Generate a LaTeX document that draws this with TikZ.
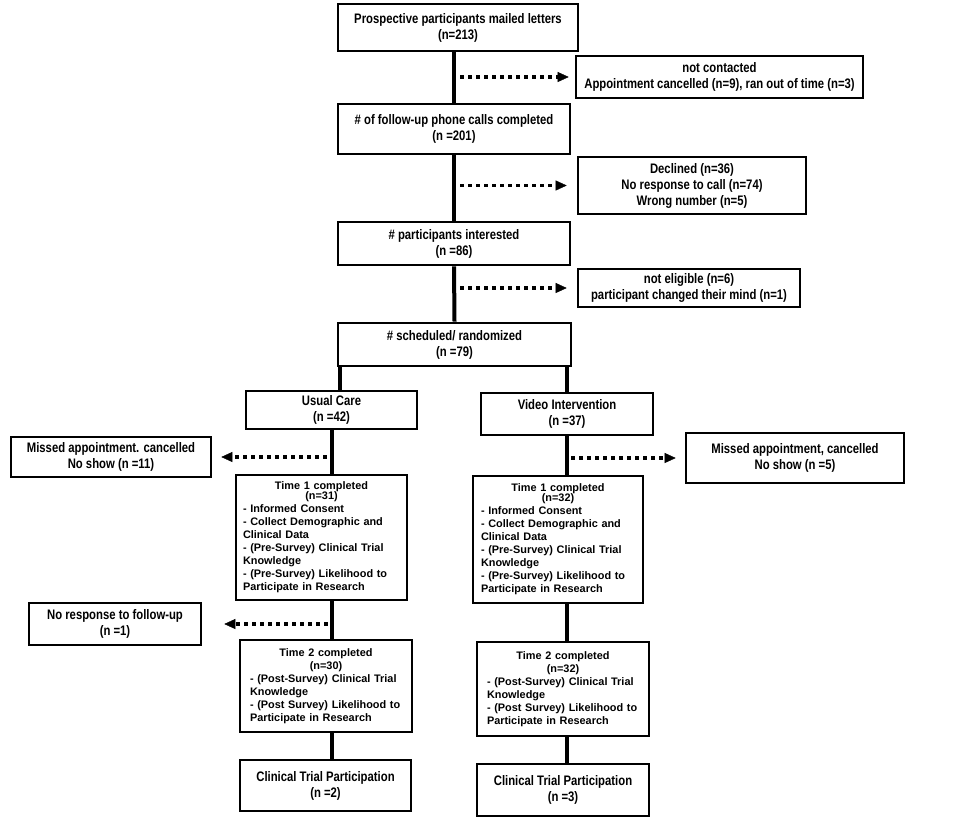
\documentclass[tikz,border=0pt]{standalone}
\usepackage{fontspec}
\setmainfont{Liberation Sans}
\newfontfamily\narrowsans{Liberation Sans}[FakeStretch=0.82]
\usetikzlibrary{arrows.meta}
\setlength{\parindent}{0pt}

\begin{document}
\begin{tikzpicture}[x=1pt,y=-1pt,
    flowbox/.style={draw,line width=2.6pt,fill=white,inner sep=0pt,align=center,
      font=\narrowsans\bfseries\fontsize{13.8}{16}\selectfont},
    listbox/.style={draw,line width=2.6pt,fill=white,inner sep=0pt,
      font=\bfseries\fontsize{10.9}{13}\selectfont},
    spine/.style={line width=4pt},
    dotarrow/.style={line width=3.5pt,dash pattern=on 4pt off 4pt,
      -{Triangle[length=11pt,width=10pt,line width=0.4pt]}}]
        \path[use as bounding box,fill=white] (0,0) rectangle (957,822);

        \node[flowbox,minimum width=240pt,minimum height=47pt] (mailed) at (458,27.5) {Prospective participants mailed letters\\(n=213)};
        \node[flowbox,minimum width=287pt,minimum height=42pt] (notcontacted) at (719.5,77) {not contacted\\Appointment cancelled (n=9), ran out of time (n=3)};
        \node[flowbox,minimum width=232pt,minimum height=50pt] (calls) at (454,129) {\# of follow-up phone calls completed\\(n =201)};
        \node[flowbox,minimum width=228pt,minimum height=57pt] (declined) at (692,185.5) {Declined (n=36)\\No response to call (n=74)\\Wrong number (n=5)};
        \node[flowbox,minimum width=232pt,minimum height=43pt] (interested) at (454,243.5) {\# participants interested\\(n =86)};
        \node[flowbox,minimum width=222pt,minimum height=38pt] (noteligible) at (689,288) {not eligible (n=6)\\participant changed their mind (n=1)};
        \node[flowbox,minimum width=233pt,minimum height=43pt] (randomized) at (454.5,344.5) {\# scheduled/ randomized\\(n =79)};

        \node[flowbox,minimum width=171pt,minimum height=38pt] (usual) at (331.5,410) {Usual Care\\(n =42)};
        \node[flowbox,minimum width=172pt,minimum height=42pt] (video) at (567,414) {Video Intervention\\(n =37)};
        \node[flowbox,minimum width=200pt,minimum height=40pt] (missedL) at (111,457) {Missed appointment. cancelled\\No show (n =11)};
        \node[flowbox,minimum width=218pt,minimum height=50pt] (missedR) at (795,458) {Missed appointment, cancelled\\No show (n =5)};

        \node[listbox,minimum width=171pt,minimum height=125pt,text width=157pt] (timeoneL) at (321.5,537.5) {\centering Time 1 completed\\[-3pt](n=31)\par\raggedright - Informed Consent\\- Collect Demographic and\\Clinical Data\\- (Pre-Survey) Clinical Trial\\Knowledge\\- (Pre-Survey) Likelihood to\\Participate in Research\par};
        \node[listbox,minimum width=170pt,minimum height=127pt,text width=154pt] (timeoneR) at (558,539.5) {\centering Time 1 completed\\[-3pt](n=32)\par\raggedright - Informed Consent\\- Collect Demographic and\\Clinical Data\\- (Pre-Survey) Clinical Trial\\Knowledge\\- (Pre-Survey) Likelihood to\\Participate in Research\par};
        \node[flowbox,minimum width=172pt,minimum height=42pt] (noresp) at (115,624) {No response to follow-up\\(n =1)};
        \node[listbox,minimum width=172pt,minimum height=92pt,text width=152pt] (timetwoL) at (326,686) {\centering Time 2 completed\\(n=30)\par\raggedright - (Post-Survey) Clinical Trial\\Knowledge\\- (Post Survey) Likelihood to\\Participate in Research\par};
        \node[listbox,minimum width=172pt,minimum height=94pt,text width=152pt] (timetwoR) at (563,689) {\centering Time 2 completed\\(n=32)\par\raggedright - (Post-Survey) Clinical Trial\\Knowledge\\- (Post Survey) Likelihood to\\Participate in Research\par};
        \node[flowbox,minimum width=171pt,minimum height=51pt] (trialL) at (325.5,785.5) {Clinical Trial Participation\\(n =2)};
        \node[flowbox,minimum width=172pt,minimum height=52pt] (trialR) at (563,790) {Clinical Trial Participation\\(n =3)};

        % solid flow
        \draw[spine] (calls.north |- mailed.south) -- (calls.north);
        \draw[spine] (calls.south) -- (interested.north);
        \draw[spine] (interested.south) -- (randomized.north);
        \coordinate (splitL) at ([xshift=3pt]randomized.south west);
        \draw[spine] (splitL) -- (splitL |- usual.north);
        \draw[spine] (video.north |- randomized.south) -- (video.north);
        \draw[spine] (usual.south) -- (usual.south |- timeoneL.north);
        \draw[spine] (usual.south |- timeoneL.south) -- (usual.south |- timetwoL.north);
        \draw[spine] (usual.south |- timetwoL.south) -- (usual.south |- trialL.north);
        \draw[spine] (video.south) -- (video.south |- timeoneR.north);
        \draw[spine] (video.south |- timeoneR.south) -- (video.south |- timetwoR.north);
        \draw[spine] (video.south |- timetwoR.south) -- (video.south |- trialR.north);

        % drop-outs
        \draw[dotarrow,shorten <=6pt,shorten >=6pt] (calls.north |- notcontacted.west) -- (notcontacted.west);
        \draw[dotarrow,shorten <=6pt,shorten >=10pt] (calls.south |- declined.west) -- (declined.west);
        \draw[dotarrow,shorten <=6pt,shorten >=10pt] (interested.south |- noteligible.west) -- (noteligible.west);
        \draw[dotarrow,shorten <=5pt,shorten >=9pt] (usual.south |- missedL.east) -- (missedL.east);
        \draw[dotarrow,shorten <=4pt,shorten >=9pt] (video.south |- missedR.west) -- (missedR.west);
        \draw[dotarrow,shorten <=4pt,shorten >=22pt] (usual.south |- noresp.east) -- (noresp.east);
      \end{tikzpicture}
\end{document}
